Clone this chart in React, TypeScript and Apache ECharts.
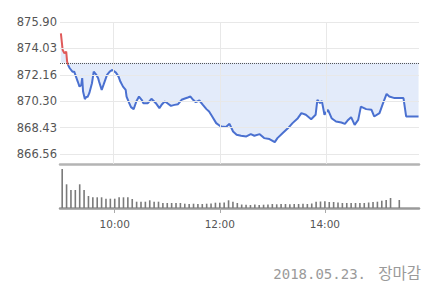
import React, { useEffect, useRef } from "react";
import * as echarts from "echarts";

// minutes after 09:00
const priceTimes = [1,3,5,7,8,9,11,14,16,18,20,22,24,25,26,28,30,31,33,36,38,41,43,44,47,49,51,53,56,59,63,66,68,71,74,75,78,80,83,86,89,92,94,99,103,105,108,112,115,118,121,125,129,133,137,140,144,147,150,153,157,161,165,168,172,176,180,182,187,191,195,199,204,210,215,219,225,230,236,242,245,251,257,262,268,272,277,283,288,290,293,295,298,302,306,311,317,321,324,328,332,336,339,345,351,354,360,364,368,371,377,387,390,404];
const priceValues = [875.10,873.92,873.69,873.80,873.10,872.87,872.63,872.39,872.39,872.04,871.69,871.33,871.45,871.93,870.98,870.45,870.63,870.59,870.87,871.57,872.39,872.16,871.93,871.69,871.10,871.45,871.81,872.16,872.39,872.51,872.32,872.04,871.69,871.33,871.10,870.63,870.16,869.88,869.74,870.28,870.63,870.40,870.16,870.16,870.47,870.35,870.16,869.81,870.09,870.28,870.16,869.97,870.04,870.09,870.40,870.47,870.56,870.63,870.40,870.23,870.35,870.04,869.74,869.57,869.17,868.75,868.56,868.51,868.47,868.70,868.16,867.93,867.86,867.81,867.97,867.86,867.97,867.69,867.62,867.41,867.69,868.05,868.40,868.75,869.10,869.46,869.34,869.03,869.34,870.40,870.16,870.32,869.34,869.69,869.10,868.86,868.79,868.70,868.93,869.17,868.63,868.98,869.92,869.74,869.69,869.22,869.46,870.16,870.82,870.63,870.52,870.52,869.22,869.22];
const prevClose = 873.01;

// 5-minute volume bars (relative units), one per 5-minute slot from 09:00
const volumeValues = [39,23.7,18,18,23.7,18,12,10.7,10.7,10.7,9.3,9.3,9.3,10.7,10.7,10.7,9,6.3,6.3,6.3,7.7,6.3,6.3,5,5,5,5,5,4.3,4,4.3,4,4,4.3,4.5,5.3,5.3,5.5,7.7,6.3,5,3.5,3.3,3,3.5,3,3.3,3.5,4,3.7,4,4,3.8,4,4,4.2,4,4.5,6.3,6.5,6.7,6,6,5.5,5,5,5,5,5,5,5.5,6,6.3,7.3,8,10,null,8];
const volumeSlots = 82;

const yTicks = [866.56, 868.43, 870.30, 872.16, 874.03, 875.90];
const xTickMinutes = [60, 180, 300];
const xTickLabels = ["10:00", "12:00", "14:00"];
const dateText = "2018.05.23.";
const statusText = "장마감";

const fmtTime = (m: number) => {
  const h = 9 + Math.floor(m / 60);
  const mm = Math.round(m % 60);
  return `${h}:${mm < 10 ? "0" + mm : mm}`;
};

export default function App() {
  const ref = useRef<HTMLDivElement>(null);
  useEffect(() => {
    if (!ref.current) return;
    const chart = echarts.init(ref.current, null, { renderer: "svg" });
    const priceData = priceTimes.map((t, i) => [t, priceValues[i]]);
    // split at the first point below the previous close
    const cross = priceValues.findIndex((v) => v < prevClose);
    const redData = priceData.slice(0, cross + 1);
    const blueData = priceData.slice(cross);
    const slotLabels = Array.from({ length: volumeSlots }, (_, i) => fmtTime(i * 5));
    const gridColor = "#e8e8e8";
    chart.setOption({
      animation: false,
      backgroundColor: "#ffffff",
      grid: [
        { left: 60, right: 17, top: 22, bottom: 136 },
        { left: 60, right: 17, top: 169, bottom: 92 },
      ],
      xAxis: [
        {
          type: "value",
          gridIndex: 0,
          min: 0,
          max: 404.5,
          axisLine: { show: true, lineStyle: { color: "#b4b4b4", width: 2.5 } },
          axisTick: { show: false },
          axisLabel: { show: false },
          splitLine: { show: false },
        },
        {
          type: "category",
          gridIndex: 1,
          data: slotLabels,
          boundaryGap: true,
          axisLine: { show: true, lineStyle: { color: "#9a9a9a", width: 2.5 } },
          axisTick: {
            show: true,
            length: 5,
            alignWithLabel: true,
            interval: (_i: number, v: string) => xTickLabels.includes(v),
            lineStyle: { color: "#aaaaaa" },
          },
          axisLabel: {
            show: true,
            interval: (_i: number, v: string) => xTickLabels.includes(v),
            color: "#555555",
            fontSize: 10.5,
            fontFamily: "DejaVu Sans",
            margin: 10,
          },
          splitLine: { show: false },
        },
      ],
      yAxis: [
        {
          type: "value",
          gridIndex: 0,
          min: 865.86,
          max: 875.9,
          axisLine: { show: false },
          axisTick: { show: false },
          axisLabel: { show: false },
          splitLine: { show: false },
        },
        {
          type: "value",
          gridIndex: 1,
          min: 0,
          max: 39,
          show: false,
          splitLine: { show: false },
        },
      ],
      series: [
        {
          type: "line",
          xAxisIndex: 0,
          yAxisIndex: 0,
          data: priceData,
          showSymbol: false,
          silent: true,
          lineStyle: { width: 0, opacity: 0 },
          areaStyle: { origin: prevClose, color: "#e3ebfa", opacity: 1 },
          z: 1,
        },
        {
          type: "line",
          xAxisIndex: 0,
          yAxisIndex: 0,
          data: priceData,
          showSymbol: false,
          silent: true,
          lineStyle: { width: 0, opacity: 0 },
          markLine: {
            silent: true,
            symbol: "none",
            data: [
              ...yTicks.map((v) => ({
                yAxis: v,
                lineStyle: { type: "solid", color: gridColor, width: 1 },
                label: {
                  show: true,
                  position: "start",
                  distance: 3,
                  formatter: () => v.toFixed(2),
                  color: "#555555",
                  fontSize: 11.5,
                  fontFamily: "DejaVu Sans",
                },
              })),
              ...xTickMinutes.map((m) => ({
                xAxis: m,
                lineStyle: { type: "solid", color: gridColor, width: 1 },
                label: { show: false },
              })),
            ],
          },
          z: 2,
        },
        {
          type: "line",
          xAxisIndex: 0,
          yAxisIndex: 0,
          data: blueData,
          showSymbol: false,
          color: "#4a70d0",
          lineStyle: { width: 2, color: "#4a70d0" },
          markLine: {
            silent: true,
            symbol: "none",
            label: { show: false },
            lineStyle: { type: "dotted", color: "#555555", width: 1 },
            data: [{ yAxis: prevClose }],
          },
          z: 3,
        },
        {
          type: "line",
          xAxisIndex: 0,
          yAxisIndex: 0,
          data: redData,
          showSymbol: false,
          color: "#e05a5a",
          lineStyle: { width: 2, color: "#e05a5a" },
          z: 4,
        },
        {
          type: "bar",
          xAxisIndex: 1,
          yAxisIndex: 1,
          data: volumeValues,
          barWidth: 1.6,
          itemStyle: { color: "#7a7a7a" },
        },
      ],
      graphic: [
        {
          type: "text",
          right: 70,
          top: 267,
          style: {
            text: dateText,
            fill: "#9a9a9a",
            fontSize: 14,
            fontFamily: "DejaVu Sans Mono",
          },
        },
        {
          type: "text",
          right: 15,
          top: 264,
          style: {
            text: statusText,
            fill: "#9a9a9a",
            fontSize: 15.5,
            fontFamily: "Noto Sans CJK KR",
          },
        },
      ],
    });
    return () => chart.dispose();
  }, []);
  return <div ref={ref} style={{ width: 436, height: 300, position: "absolute", left: 0, top: 0 }} />;
}
